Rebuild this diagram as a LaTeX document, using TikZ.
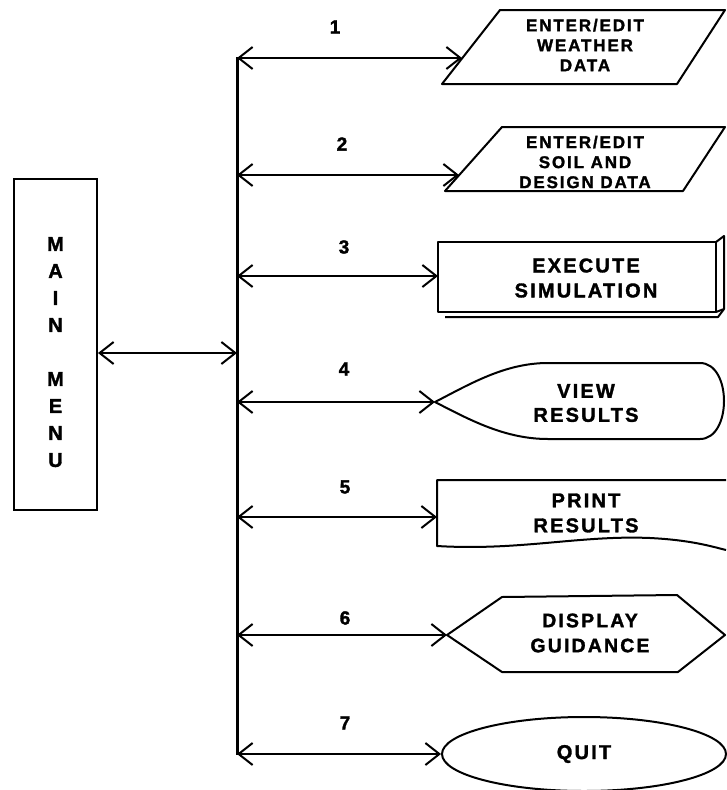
\documentclass[tikz,border=0pt]{standalone}
\usepackage{fontspec}
\setmainfont{Liberation Sans}
\newfontfamily\chartfont[LetterSpace=11, BoldFeatures={FakeBold=1.6}]{Liberation Sans}
\usetikzlibrary{arrows.meta,shapes.geometric,positioning}

\begin{document}
\begin{tikzpicture}[x=1pt, y=-1pt,
        outline/.style={draw, line width=2pt, line join=round},
        menubox/.style={rectangle, draw, line width=2pt, minimum width=83pt, minimum height=331pt, inner sep=0pt, align=center, font=\chartfont\bfseries\fontsize{20}{27}\selectfont},
        boxtext/.style 2 args={align=center, inner sep=0pt, font=\chartfont\bfseries\fontsize{#1}{#2}\selectfont},
        num/.style={inner sep=0pt, font=\chartfont\bfseries\fontsize{19}{22}\selectfont},
        link/.style={{Straight Barb[length=14pt,width=22pt]}-{Straight Barb[length=14pt,width=22pt]}, line width=2pt},
        bus/.style={line width=3pt}]

        \useasboundingbox (0,0) rectangle (726,790);

        % Main menu (left)
        \node[menubox] (menu) at (55.5,344.5) {\raisebox{0pt}[29pt]{M}\\A\\I\\N\\[27pt]M\\E\\N\\U};

        % Bus (middle)
        \coordinate (bustop) at (237,57);
        \coordinate (busend) at (237,755);
        \coordinate (hub) at (237,353);
        \coordinate (b1) at (237,58);
        \coordinate (b2) at (237,175);
        \coordinate (b3) at (237,276);
        \coordinate (b4) at (237,402);
        \coordinate (b5) at (237,517);
        \coordinate (b6) at (237,635);
        \coordinate (b7) at (237,754);
        \draw[bus] (bustop) -- (busend);

        % Choices (right)
        \coordinate (in1) at (462,58);
        \draw[outline] (500,10) -- (725,10) -- (677,84) -- (442,84) -- cycle;
        \node[boxtext={17}{20}] (weather) at (585,45) {ENTER/EDIT\\WEATHER\\DATA};

        \coordinate (in2) at (459,175);
        \draw[outline] (502,127) -- (725,127) -- (683,191) -- (445,191) -- cycle;
        \node[boxtext={17}{20}] (soil) at (585,162) {ENTER/EDIT\\SOIL AND\\DESIGN DATA};

        \coordinate (in3) at (438,276);
        \draw[outline] (438,242) rectangle (716,312);
        \draw[outline] (716,242) -- (724,236) -- (724,309) -- (716,312);
        \draw[outline] (445,317) -- (718,317) -- (724,309);
        \node[boxtext={20}{25}] (execute) at (586,278) {EXECUTE\\SIMULATION};

        \coordinate (in4) at (435,402);
        \draw[outline] (in4) .. controls (470,384) and (505,363) .. (548,363) -- (700,363)
            .. controls (732,363) and (732,439) .. (700,439) -- (548,439)
            .. controls (505,439) and (470,420) .. (in4) -- cycle;
        \node[boxtext={20}{24}] (view) at (586,403) {VIEW\\RESULTS};

        \coordinate (in5) at (437,517);
        \draw[outline] (726,480) -- (437,480) -- (437,546) .. controls (520,551) and (580,535) .. (650,538)
            .. controls (690,540) and (710,546) .. (726,550);
        \node[boxtext={20}{25}] (print) at (586,513) {PRINT\\RESULTS};

        \coordinate (in6) at (447,635);
        \draw[outline] (in6) -- (502,597) -- (677,595) -- (725,635) -- (678,672) -- (502,672) -- cycle;
        \node[boxtext={19.5}{25}] (guide) at (590,633) {DISPLAY\\GUIDANCE};

        \node[ellipse, outline, minimum width=284pt, minimum height=74pt, inner sep=0pt, font=\chartfont\bfseries\fontsize{20}{24}\selectfont] (quit) at (584,754) {QUIT};

        % Numbers
        \node[num] (n1) at (335,27) {1};
        \node[num] (n2) at (342,144) {2};
        \node[num] (n3) at (344,247) {3};
        \node[num] (n4) at (344,369) {4};
        \node[num] (n5) at (345,487) {5};
        \node[num] (n6) at (345,618) {6};
        \node[num] (n7) at (345,723) {7};

        % Arrows
        \draw[link] (menu.east |- hub) -- (hub);
        \draw[link] (b1) -- (in1);
        \draw[link] (b2) -- (in2);
        \draw[link] (b3) -- (in3);
        \draw[link] (b4) -- (in4);
        \draw[link] (b5) -- (in5);
        \draw[link] (b6) -- (in6);
        \draw[link] (b7) -- (quit.west);
    \end{tikzpicture}
\end{document}
